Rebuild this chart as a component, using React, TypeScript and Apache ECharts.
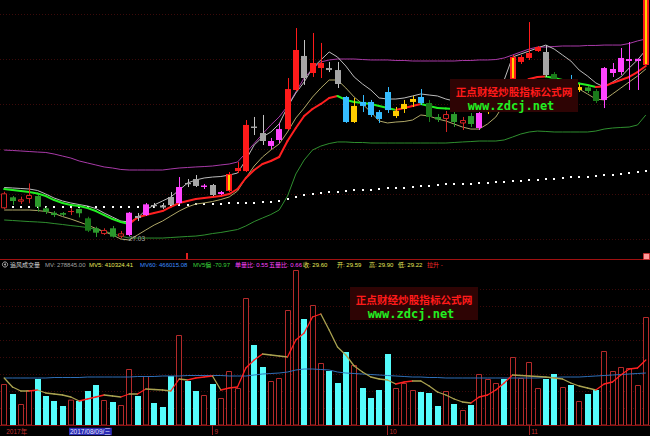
import React, { useEffect, useRef } from 'react';
import * as echarts from 'echarts';

const dates = ['2017-07-28','2017-07-31','2017-08-01','2017-08-02','2017-08-03','2017-08-04','2017-08-07','2017-08-08','2017-08-09','2017-08-10','2017-08-11','2017-08-14','2017-08-15','2017-08-16','2017-08-17','2017-08-18','2017-08-21','2017-08-22','2017-08-23','2017-08-24','2017-08-25','2017-08-28','2017-08-29','2017-08-30','2017-08-31','2017-09-01','2017-09-04','2017-09-05','2017-09-06','2017-09-07','2017-09-08','2017-09-11','2017-09-12','2017-09-13','2017-09-14','2017-09-15','2017-09-18','2017-09-19','2017-09-20','2017-09-21','2017-09-22','2017-09-25','2017-09-26','2017-09-27','2017-09-28','2017-09-29','2017-10-09','2017-10-10','2017-10-11','2017-10-12','2017-10-13','2017-10-16','2017-10-17','2017-10-18','2017-10-19','2017-10-20','2017-10-23','2017-10-24','2017-10-25','2017-10-26','2017-10-27','2017-10-30','2017-10-31','2017-11-01','2017-11-02','2017-11-03','2017-11-06','2017-11-07','2017-11-08','2017-11-09','2017-11-10','2017-11-13','2017-11-14','2017-11-15','2017-11-16','2017-11-17','2017-11-20','2017-11-21'];

// signal class of each K-line (colour-coded by the indicator)
const kinds = ['R','G','R','R','G','G','G','G','R','G',
 'DG','G','R','G','R','P','GR','P','GR','GR',
 'GR','P','GR','GR','P','GR','P','O','RF','RF',
 'GR','GR','P','P','RF','RF','GR','RF','RF','GR',
 'GR','C','Y','C','C','C','C','Y','Y','Y',
 'C','DG','G','R','G','R','G','P','Y','Y',
 'C','O','RF','RF','RF','GR','DG','R','C','Y',
 'G','DG','P','P','P','P','P','O'];

const opens = [29.86,30.91,30.49,30.75,31.03,29.86,29.44,29.41,29.59,29.80,
 28.91,27.96,27.41,27.96,27.16,27.32,29.13,29.22,30.18,30.13,
 30.94,30.37,32.27,32.65,31.89,32.08,31.22,31.51,33.41,33.41,
 37.65,37.03,35.80,36.37,37.41,41.13,44.37,42.75,43.22,43.22,
 43.03,40.46,38.08,39.99,39.99,39.03,40.94,38.65,39.32,39.99,
 40.46,39.89,38.56,38.37,38.84,37.94,38.65,37.51,39.03,40.18,
 41.51,42.18,43.80,44.18,44.84,44.75,42.65,40.65,41.51,41.13,
 41.37,41.03,40.18,42.75,42.84,43.89,43.89,43.51];
const closes = [31.29,30.56,30.72,31.13,30.01,29.54,29.22,29.25,29.60,29.39,
 27.73,27.54,27.80,27.16,27.48,29.44,28.94,30.24,30.08,29.94,
 30.18,31.89,32.18,31.99,32.03,31.13,31.41,33.13,33.70,37.80,
 37.51,36.27,36.27,37.41,41.22,44.94,42.27,43.70,43.70,43.03,
 41.70,38.08,39.61,39.61,38.75,38.37,39.22,39.13,39.80,40.27,
 39.89,38.56,38.32,38.84,38.08,38.27,37.89,38.94,40.18,41.32,
 40.75,44.27,44.27,44.65,45.22,42.56,41.13,41.32,40.65,41.41,
 41.03,40.08,43.22,43.13,44.18,44.08,44.10,50.60];
const highs = [31.44,31.03,30.97,32.24,31.13,30.01,29.60,29.51,29.90,29.86,
 29.06,28.11,27.96,28.18,27.70,29.51,29.41,30.37,30.37,30.37,
 31.41,32.84,32.65,33.03,32.18,32.18,31.51,33.32,34.27,38.27,
 38.56,38.75,36.56,37.99,42.27,47.03,45.89,46.56,45.61,43.80,
 43.80,40.56,40.37,40.65,40.18,39.22,41.41,39.51,40.18,40.56,
 41.22,40.18,38.84,39.13,39.03,38.56,38.94,39.03,40.65,41.61,
 41.70,44.46,44.46,47.60,45.32,45.41,42.84,41.61,42.56,41.70,
 41.51,41.22,43.32,43.70,45.13,45.70,44.10,50.60];
const lows = [29.80,30.18,30.27,30.34,29.54,29.32,29.03,29.13,29.22,29.00,
 27.60,27.13,27.32,27.08,27.03,27.22,28.65,29.13,29.89,29.80,
 30.08,30.27,31.89,31.89,31.70,31.03,31.13,31.41,33.22,33.32,
 36.84,35.89,35.51,36.08,37.32,41.03,41.61,42.37,42.27,42.84,
 41.32,37.99,37.99,39.03,38.56,37.99,38.94,38.46,38.94,39.51,
 39.70,38.08,38.08,37.13,37.61,37.32,37.61,37.32,38.84,39.99,
 40.37,41.99,43.61,43.99,44.75,42.37,40.75,40.18,40.37,40.94,
 40.84,39.89,39.41,42.37,42.56,41.13,41.13,43.51];

const upperBand = [35.41,35.37,35.32,35.27,35.22,35.18,35.03,34.84,34.65,34.37,
 34.18,33.99,33.80,33.70,33.56,33.51,33.51,33.51,33.51,33.51,
 33.61,33.70,33.75,33.80,33.84,33.89,33.99,34.08,34.27,35.13,
 36.03,36.94,37.80,38.56,39.60,40.94,42.27,43.13,43.80,43.99,
 44.08,44.08,44.08,44.03,43.99,43.99,43.99,43.94,43.94,43.89,
 43.89,43.89,43.89,43.89,43.89,43.94,43.94,43.99,43.99,44.03,
 44.18,44.46,44.75,45.03,45.22,45.22,45.27,45.32,45.32,45.32,
 45.37,45.37,45.41,45.41,45.41,45.56,45.80,45.99];
const lowerBand = [28.75,28.70,28.65,28.60,28.56,28.51,28.41,28.32,28.22,28.13,
 28.03,27.84,27.70,27.46,27.22,27.03,27.03,27.03,27.03,27.03,
 27.08,27.13,27.18,27.22,27.32,27.46,27.56,27.70,27.84,28.18,
 28.60,28.94,29.27,29.70,31.03,33.13,34.46,35.41,35.79,36.03,
 36.18,36.18,36.13,36.13,36.08,36.08,36.08,36.08,36.08,36.08,
 36.08,36.08,36.08,36.08,36.13,36.18,36.22,36.27,36.27,36.27,
 36.37,36.65,36.94,37.13,37.22,37.18,37.13,37.13,37.13,37.13,
 37.13,37.22,37.41,37.51,37.56,37.60,37.80,38.75];
const dotLine = [29.94,29.94,29.94,29.94,29.94,29.94,29.94,29.94,29.94,29.99,
 29.99,29.99,29.99,29.99,29.99,30.03,30.03,30.03,30.03,30.08,
 30.13,30.18,30.22,30.27,30.27,30.32,30.32,30.37,30.37,30.41,
 30.41,30.46,30.46,30.56,30.75,30.94,31.13,31.22,31.32,31.41,
 31.46,31.51,31.56,31.60,31.65,31.70,31.75,31.80,31.84,31.89,
 31.94,31.99,32.08,32.13,32.13,32.18,32.22,32.27,32.32,32.37,
 32.41,32.46,32.51,32.56,32.60,32.65,32.70,32.75,32.80,32.84,
 32.89,32.94,32.99,33.03,33.13,33.22,33.32,33.41];
const maShort = [31.84,31.80,31.75,31.70,31.56,31.22,30.84,30.56,30.37,30.22,
 30.08,29.84,29.41,29.03,28.65,28.56,28.94,29.70,30.18,30.56,
 30.94,31.60,32.27,32.56,32.75,32.84,32.89,33.03,33.22,34.46,
 35.89,36.65,37.13,37.89,39.51,40.84,41.89,43.22,43.99,44.75,
 44.27,43.41,42.37,41.70,41.13,40.37,40.27,40.27,40.37,40.56,
 40.75,40.65,40.56,40.27,40.08,39.80,39.51,39.41,39.80,40.75,
 42.08,44.27,44.56,44.84,45.13,45.41,45.03,44.46,43.89,43.03,
 42.46,41.80,41.41,41.89,42.37,43.22,43.99,44.94];
const maTrend = [31.70,31.60,31.51,31.41,31.27,31.03,30.65,30.37,30.18,30.08,
 29.89,29.60,29.22,28.84,28.56,28.37,28.99,29.22,29.41,29.60,
 29.99,30.37,30.56,30.75,30.84,30.94,31.03,31.22,31.70,32.75,
 33.51,34.08,34.37,34.75,36.27,37.51,38.65,39.32,39.80,40.37,
 40.56,40.18,39.99,39.89,39.80,39.60,39.41,39.22,39.41,39.60,
 39.80,39.60,39.41,39.37,39.32,39.27,39.22,39.13,39.22,39.70,
 40.46,41.13,41.70,42.18,42.37,42.41,42.27,42.08,41.89,41.75,
 41.60,41.41,41.46,41.80,42.08,42.37,42.84,43.41];
const khakiLine = [29.70,29.70,29.70,29.70,29.65,29.56,29.37,29.08,28.84,28.56,
 28.27,27.94,27.65,27.32,26.94,26.84,27.32,27.80,28.27,28.65,
 29.13,29.60,29.99,30.27,30.37,30.51,30.70,30.94,31.51,32.75,
 33.89,34.75,35.41,35.99,37.13,38.46,39.41,40.46,41.32,42.08,
 42.08,41.32,40.46,39.80,39.03,38.18,37.99,38.08,38.13,38.27,
 38.75,38.65,38.37,38.18,37.89,37.60,37.41,37.41,37.89,38.56,
 39.80,40.94,41.32,41.70,41.99,41.99,41.89,41.70,41.51,41.22,
 40.75,40.27,40.18,40.75,41.32,41.89,42.46,43.13];

const volumes = [451000,341000,231000,385000,506000,319000,264000,209000,278845,264000,
 374000,440000,275000,253000,220000,616000,319000,539000,242000,198000,
 539000,990000,484000,374000,330000,451000,297000,594000,407000,1397000,
 880000,638000,484000,517000,1265000,1705000,1166000,1320000,682000,594000,
 462000,803000,660000,407000,297000,385000,781000,407000,462000,385000,
 363000,352000,209000,374000,231000,165000,220000,561000,506000,462000,
 506000,748000,517000,693000,407000,506000,561000,418000,440000,264000,
 341000,385000,814000,594000,638000,627000,440000,1188000];
const mv5 = [517000,418000,374000,374000,385000,352000,341000,330000,308000,264000,
 286000,308000,330000,319000,308000,341000,341000,396000,390500,385000,
 374000,506000,495000,517000,528000,539000,385000,407000,418000,627000,
 715000,781000,770000,759000,748000,935000,1012000,1188000,1221000,1045000,
 858000,770000,649000,583000,528000,506000,495000,451000,473000,484000,
 484000,429000,363000,330000,286000,253000,242000,308000,330000,385000,
 462000,550000,544500,539000,533500,528000,517000,506000,462000,429000,
 407000,385000,451000,473000,550000,616000,627000,715000];
const mv60 = [517000,517000,517000,517000,517000,517000,522500,522500,522500,522500,
 528000,528000,528000,528000,528000,528000,533500,533500,533500,539000,
 539000,539000,544500,544500,544500,544500,544500,539000,539000,539000,
 550000,561000,566500,572000,583000,605000,616000,616000,610500,605000,
 583000,572000,566500,561000,555500,550000,544500,539000,533500,528000,
 528000,522500,522500,517000,517000,517000,517000,517000,517000,517000,
 517000,517000,517000,517000,517000,522500,522500,528000,528000,528000,
 533500,539000,544500,550000,555500,561000,566500,572000];

const CURSOR = 8;
const PRICE_MIN = 25.13;
const PRICE_MAX = 49.7;
const VOL_MAX = 1705000;

const KIND_STYLE: Record<string, { fill: string; stroke: string }> = {
  R: { fill: '#000000', stroke: '#d42424' },
  RF: { fill: '#ff1a1a', stroke: '#ff1a1a' },
  P: { fill: '#ff44ff', stroke: '#ff44ff' },
  GR: { fill: '#a6a6a6', stroke: '#c4c4c4' },
  C: { fill: '#35bcff', stroke: '#35bcff' },
  Y: { fill: '#ffcc00', stroke: '#ffcc00' },
  G: { fill: '#2c9a2c', stroke: '#2c9a2c' },
  DG: { fill: '#1a7a1a', stroke: '#1a7a1a' },
  O: { fill: '#ff1a1a', stroke: '#ff1a1a' },
};

const CJK = '"Liberation Sans", "Noto Sans CJK SC", sans-serif';

function segments(arr: number[]) {
  const out: number[][] = [];
  for (let i = 0; i < arr.length - 1; i++) out.push([i, arr[i], arr[i + 1]]);
  return out;
}

function segRenderer(upColor: string, downColor: string, width: number) {
  return (params: any, api: any) => {
    const i = api.value(0);
    const a = api.value(1);
    const b = api.value(2);
    const p1 = api.coord([i, a]);
    const p2 = api.coord([i + 1, b]);
    return {
      type: 'line',
      shape: { x1: p1[0], y1: p1[1], x2: p2[0], y2: p2[1] },
      style: { stroke: b > a ? upColor : downColor, lineWidth: width, lineCap: 'round' },
    };
  };
}

function renderCandle(params: any, api: any) {
  const i = api.value(0);
  const o = api.value(1), c = api.value(2), l = api.value(3), h = api.value(4);
  const st = KIND_STYLE[kinds[i]];
  const po = api.coord([i, o]);
  const pc = api.coord([i, c]);
  const pl = api.coord([i, l]);
  const ph = api.coord([i, h]);
  const cx = Math.round(po[0]);
  const top = Math.min(po[1], pc[1]);
  const bot = Math.max(po[1], pc[1]);
  const hgt = Math.max(bot - top, 1);
  const children: any[] = [
    { type: 'line', shape: { x1: cx + 0.5, y1: ph[1], x2: cx + 0.5, y2: pl[1] }, style: { stroke: st.stroke, lineWidth: 1 } },
  ];
  if (kinds[i] === 'R') {
    if (hgt < 2) {
      children.push({ type: 'line', shape: { x1: cx - 3, y1: top + 0.5, x2: cx + 3, y2: top + 0.5 }, style: { stroke: st.stroke, lineWidth: 1 } });
    } else {
      children.push({ type: 'rect', shape: { x: cx - 2.5, y: top + 0.5, width: 5, height: hgt - 1 }, style: { fill: '#000', stroke: st.stroke, lineWidth: 1 } });
    }
  } else {
    children.push({ type: 'rect', shape: { x: cx - 3, y: top, width: 6, height: Math.max(hgt, 1.2) }, style: { fill: st.fill } });
    if (kinds[i] === 'O') {
      children.push({ type: 'rect', shape: { x: cx - 1, y: top + 1, width: 2, height: Math.max(hgt - 2, 0) }, style: { fill: '#ffd400' } });
    }
  }
  return { type: 'group', children };
}

function renderVolume(params: any, api: any) {
  const i = api.value(0);
  const v = api.value(1);
  const p0 = api.coord([i, 0]);
  const p1 = api.coord([i, v]);
  const cx = Math.round(p0[0]);
  const up = closes[i] >= opens[i];
  if (up) {
    return { type: 'rect', shape: { x: cx - 2.5, y: p1[1] + 0.5, width: 5, height: p0[1] - p1[1] - 0.5 }, style: { fill: '#000', stroke: '#b42a2a', lineWidth: 1 } };
  }
  return { type: 'rect', shape: { x: cx - 3, y: p1[1], width: 6, height: p0[1] - p1[1] }, style: { fill: '#55fcfc' } };
}

function renderDot(params: any, api: any) {
  const i = api.value(0);
  const p = api.coord([i, api.value(1)]);
  return { type: 'rect', shape: { x: Math.round(p[0]) - 1, y: Math.round(p[1]) - 1, width: 2, height: 2 }, style: { fill: '#ffffff' } };
}

// first bar of a month; the year label replaces the month label too close to the left edge
function showDateLabel(index: number) {
  if (index === 0) return true;
  if (index < 6) return false;
  return dates[index].slice(5, 7) !== dates[index - 1].slice(5, 7);
}

export default function App() {
  const ref = useRef<HTMLDivElement>(null);
  useEffect(() => {
    if (!ref.current) return;
    const chart = echarts.init(ref.current, null, { renderer: 'svg' });
    let minIdx = 0;
    lows.forEach((l, i) => { if (l < lows[minIdx]) minIdx = i; });

    const infoItems: [string, number, string][] = [
      ['追风成交量', 10, '#d8d8d8'],
      ['MV: ' + volumes[CURSOR].toFixed(2), 45, '#a0a0a0'],
      ['MV5: 410324.41', 89, '#e6e65a'],
      ['MV60: 466015.08', 140, '#3c8cff'],
      ['MV5偏 -70.97', 193, '#3ad03a'],
      ['单量比: 0.55', 235, '#ff44ff'],
      ['五量比: 0.66', 269, '#ff44ff'],
      ['收: ' + closes[CURSOR].toFixed(2), 303, '#e6e65a'],
      ['开: ' + opens[CURSOR].toFixed(2), 337, '#e6e65a'],
      ['高: ' + highs[CURSOR].toFixed(2), 369, '#e6e65a'],
      ['低: ' + lows[CURSOR].toFixed(2), 398, '#e6e65a'],
      ['拉升 -', 427, '#ff2a2a'],
    ];

    const gridLines: any[] = [];
    [14, 59, 104, 149, 194, 239].forEach((y, k) => {
      gridLines.push({ type: 'line', id: 'tg' + k, z: 0, silent: true, shape: { x1: 0, y1: y + 0.5, x2: 650, y2: y + 0.5 }, style: { stroke: '#3c0a0a', lineWidth: 1, lineDash: [1, 2] } });
    });
    [289, 306, 323, 340, 357, 374, 391, 408].forEach((y, k) => {
      gridLines.push({ type: 'line', id: 'vg' + k, z: 0, silent: true, shape: { x1: 0, y1: y + 0.5, x2: 650, y2: y + 0.5 }, style: { stroke: '#3c0a0a', lineWidth: 1, lineDash: [1, 2] } });
    });

    const watermark = (id: string, x: number, y: number) => [
      { type: 'rect', id: id + 'bg', z: 100, shape: { x, y, width: 128, height: 33 }, style: { fill: '#2e0404' } },
      { type: 'text', id: id + 'cn', z: 101, style: { text: '正点财经炒股指标公式网', x: x + 64, y: y + 12.5, fill: '#ff1a1a', fontSize: 10.6, fontWeight: 'bold', fontFamily: '"Noto Sans CJK SC", sans-serif', align: 'center', verticalAlign: 'middle' } },
      { type: 'text', id: id + 'en', z: 101, style: { text: 'www.zdcj.net', x: x + 61, y: y + 26.5, fill: '#22ee22', fontSize: 12, fontWeight: 'bold', fontFamily: '"DejaVu Sans Mono", monospace', align: 'center', verticalAlign: 'middle' } },
    ];

    const graphics: any[] = [
      ...gridLines,
      { type: 'line', id: 'sep', z: 50, shape: { x1: 0, y1: 259.5, x2: 650, y2: 259.5 }, style: { stroke: '#a01010', lineWidth: 1 } },
      { type: 'rect', id: 'sepMark', z: 50, shape: { x: 186, y: 253, width: 2, height: 6 }, style: { fill: '#e02020' } },
      { type: 'rect', id: 'sqIcon', z: 50, shape: { x: 643.5, y: 253.5, width: 6, height: 6 }, style: { fill: '#ff9a9a', stroke: '#c03030', lineWidth: 1 } },
      { type: 'circle', id: 'ico1', z: 50, shape: { cx: 5, cy: 264.5, r: 2.6 }, style: { fill: 'none', stroke: '#a8a8a8', lineWidth: 1 } },
      { type: 'circle', id: 'ico2', z: 50, shape: { cx: 5, cy: 264.5, r: 1 }, style: { fill: '#a8a8a8' } },
      ...infoItems.map(([t, x, col], k) => ({
        type: 'text', id: 'info' + k, z: 50,
        style: { text: t, x, y: 264.5, fill: col, fontSize: 6, fontFamily: CJK, verticalAlign: 'middle', align: 'left' },
      })),
      ...watermark('wm1', 450, 79),
      ...watermark('wm2', 350, 287),
      { type: 'text', id: 'cursorDate', z: 60, style: { text: '', x: 0, y: 431.5 } },
    ];

    chart.setOption({
      backgroundColor: '#000000',
      animation: false,
      grid: [
        { left: 0, right: 0, top: 0, height: 258 },
        { left: 0, right: 0, top: 270, height: 155 },
      ],
      xAxis: [
        { type: 'category', gridIndex: 0, data: dates, boundaryGap: true, show: false },
        {
          type: 'category', gridIndex: 1, data: dates, boundaryGap: true,
          axisLine: { show: true, lineStyle: { color: '#8a1010', width: 1 } },
          axisTick: { show: true, interval: (index: number) => index > 0 && showDateLabel(index), alignWithLabel: true, length: 10, lineStyle: { color: '#a02020' } },
          axisLabel: {
            interval: (index: number) => showDateLabel(index),
            showMinLabel: true,
            formatter: (value: string, index: number) => (index === 0 ? value.slice(0, 4) + '年' : String(parseInt(value.slice(5, 7), 10))),
            color: '#c03030', fontSize: 6.5, fontFamily: CJK, align: 'left', margin: 3, padding: [0, 0, 0, 2],
          },
          splitLine: { show: false },
        },
      ],
      yAxis: [
        { type: 'value', gridIndex: 0, min: PRICE_MIN, max: PRICE_MAX, show: false },
        { type: 'value', gridIndex: 1, min: 0, max: VOL_MAX, show: false },
      ],
      series: [
        { type: 'custom', name: 'dots', xAxisIndex: 0, yAxisIndex: 0, data: dotLine.map((v, i) => [i, v]), renderItem: renderDot, encode: { x: 0, y: 1 }, silent: true, z: 2 },
        { type: 'line', name: 'upper', xAxisIndex: 0, yAxisIndex: 0, data: upperBand, symbol: 'none', lineStyle: { color: '#a83aa8', width: 1 }, silent: true, z: 2 },
        { type: 'line', name: 'lower', xAxisIndex: 0, yAxisIndex: 0, data: lowerBand, symbol: 'none', lineStyle: { color: '#2f8f2f', width: 1 }, silent: true, z: 2 },
        { type: 'line', name: 'khaki', xAxisIndex: 0, yAxisIndex: 0, data: khakiLine, symbol: 'none', lineStyle: { color: '#b0a868', width: 1 }, silent: true, z: 2 },
        { type: 'line', name: 'short', xAxisIndex: 0, yAxisIndex: 0, data: maShort, symbol: 'none', lineStyle: { color: '#bcbcbc', width: 1 }, silent: true, z: 2 },
        { type: 'custom', name: 'trend', xAxisIndex: 0, yAxisIndex: 0, data: segments(maTrend), renderItem: segRenderer('#ff2020', '#22ee22', 2), encode: { x: 0, y: [1, 2] }, silent: true, z: 3 },
        { type: 'custom', name: 'kline', xAxisIndex: 0, yAxisIndex: 0, data: dates.map((_, i) => [i, opens[i], closes[i], lows[i], highs[i]]), renderItem: renderCandle, encode: { x: 0, y: [1, 2, 3, 4] }, clip: true, silent: true, z: 4 },
        {
          type: 'scatter', name: 'lowMark', xAxisIndex: 0, yAxisIndex: 0, data: [[minIdx, lows[minIdx]]], symbolSize: 1, itemStyle: { color: 'transparent' }, silent: true, z: 5,
          label: { show: true, position: 'right', distance: 1, formatter: (p: any) => '←' + Number(p.value[1]).toFixed(2), color: '#c8c8c8', fontSize: 6.5, fontFamily: CJK },
        },
        { type: 'custom', name: 'volume', xAxisIndex: 1, yAxisIndex: 1, data: volumes.map((v, i) => [i, v]), renderItem: renderVolume, encode: { x: 0, y: 1 }, clip: true, silent: true, z: 2 },
        { type: 'line', name: 'MV60', xAxisIndex: 1, yAxisIndex: 1, data: mv60, symbol: 'none', lineStyle: { color: '#2f6fb8', width: 1 }, silent: true, z: 3 },
        { type: 'custom', name: 'MV5', xAxisIndex: 1, yAxisIndex: 1, data: segments(mv5), renderItem: segRenderer('#ff2020', '#aaa250', 1.3), encode: { x: 0, y: [1, 2] }, silent: true, z: 4 },
      ],
      graphic: { elements: graphics },
    });

    const cx = chart.convertToPixel({ xAxisIndex: 1 }, dates[CURSOR]) as number;
    const d = dates[CURSOR].split('-');
    chart.setOption({
      graphic: {
        elements: [
          {
            type: 'text', id: 'cursorDate', z: 60,
            style: {
              text: d[0] + '/' + d[1] + '/' + d[2] + '/三', x: Math.round(cx) - 2, y: 431.5,
              fill: '#e8e8ff', fontSize: 6.5, fontFamily: CJK, verticalAlign: 'middle', align: 'left',
              backgroundColor: '#2a2ab4', padding: [1, 1, 0, 1],
            },
          },
        ],
      },
    });

    return () => chart.dispose();
  }, []);
  return <div ref={ref} style={{ position: 'fixed', left: 0, top: 0, width: 650, height: 436, background: '#000' }} />;
}
